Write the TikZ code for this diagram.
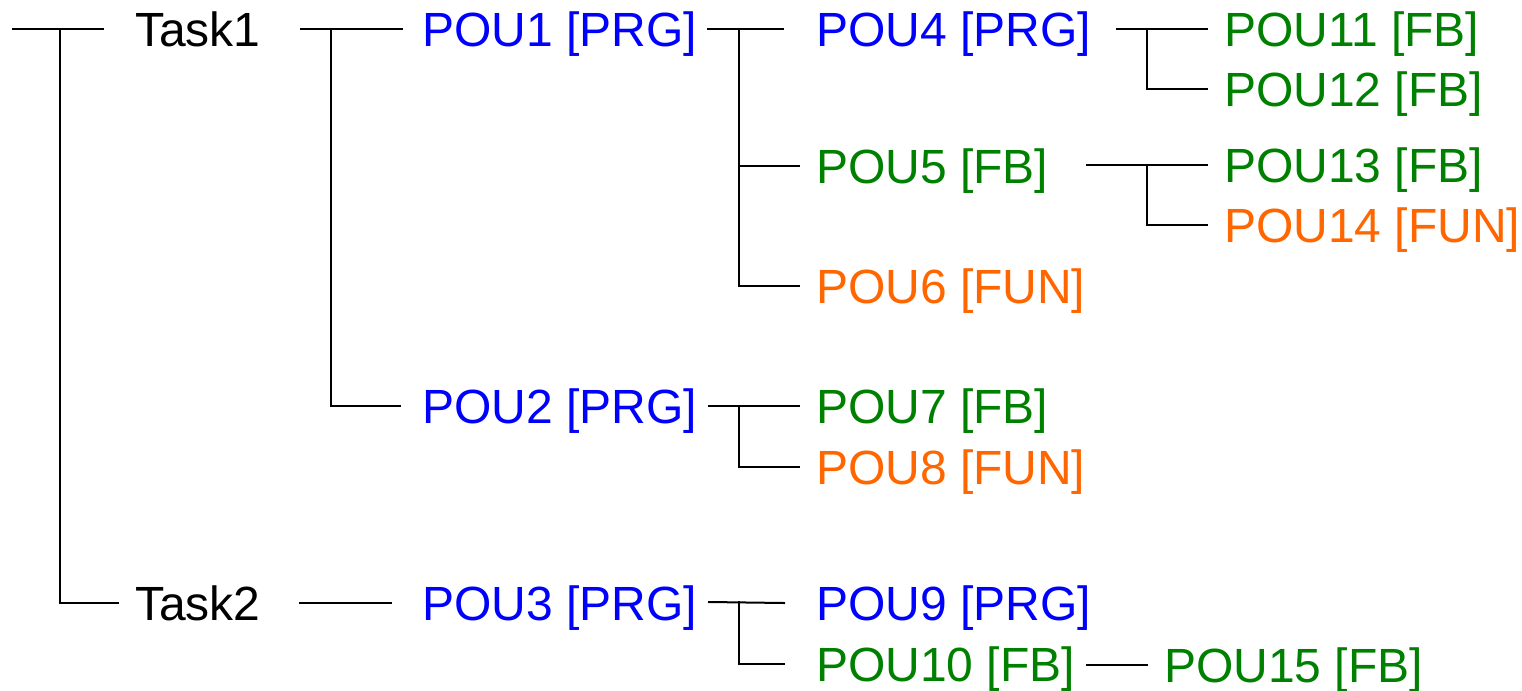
\documentclass[tikz,border=0pt]{standalone}
\usepackage{fontspec}
\setmainfont{Liberation Sans}
\usepackage[svgnames]{xcolor}
\definecolor{funorange}{RGB}{255,102,0}

\begin{document}
\begin{tikzpicture}[
    x=0.5pt,
    y=-0.5pt,
    line width=1pt,
    pou/.style = {
        anchor=base west,
        inner sep=0pt,
        yshift=-8.6pt,
        font=\fontsize{24}{28}\selectfont
    },
    task/.style = {pou, text=black},
    prg/.style = {pou, text=Blue},
    fb/.style = {pou, text=Green},
    fun/.style = {pou, text=funorange},
]
    \useasboundingbox (0,0) rectangle (1522,691);

    % Tasks
    \node [task] (task1) at (134,29) {Task1};
    \node [task] (task2) at (134,603) {Task2};

    % Programs called by the tasks
    \node [prg] (pou1) at (421,29) {POU1 [PRG]};
    \node [prg] (pou2) at (421,406) {POU2 [PRG]};
    \node [prg] (pou3) at (421,603) {POU3 [PRG]};

    % Second level
    \node [prg] (pou4) at (815,29) {POU4 [PRG]};
    \node [fb]  (pou5) at (815,166) {POU5 [FB]};
    \node [fun] (pou6) at (815,286) {POU6 [FUN]};
    \node [fb]  (pou7) at (815,406) {POU7 [FB]};
    \node [fun] (pou8) at (815,467) {POU8 [FUN]};
    \node [prg] (pou9) at (815,603) {POU9 [PRG]};
    \node [fb]  (pou10) at (815,664) {POU10 [FB]};

    % Third level
    \node [fb]  (pou11) at (1223,29) {POU11 [FB]};
    \node [fb]  (pou12) at (1223,89) {POU12 [FB]};
    \node [fb]  (pou13) at (1223,165) {POU13 [FB]};
    \node [fun] (pou14) at (1223,225) {POU14 [FUN]};
    \node [fb]  (pou15) at (1163,665) {POU15 [FB]};

    % Line ends and forks
    \coordinate (root_in) at (13,29);
    \coordinate (root_fork) at (60,29);
    \coordinate (task1_in) at (103,29);
    \coordinate (task2_in) at (118,603);

    \coordinate (task1_out) at (301,29);
    \coordinate (task1_fork) at (331,29);
    \coordinate (pou1_in) at (402,29);
    \coordinate (pou2_in) at (400,406);
    \coordinate (task2_out) at (300,603);
    \coordinate (pou3_in) at (391,603);

    \coordinate (pou1_out) at (708,29);
    \coordinate (pou1_fork) at (739,29);
    \coordinate (pou4_in) at (783,29);
    \coordinate (pou5_in) at (799,166);
    \coordinate (pou6_in) at (799,286);

    \coordinate (pou2_out) at (709,406);
    \coordinate (pou2_fork) at (739,406);
    \coordinate (pou7_in) at (799,406);
    \coordinate (pou8_in) at (799,467);

    \coordinate (pou3_out) at (709,602);
    \coordinate (pou3_fork) at (739,602);
    \coordinate (pou9_in) at (784,603);
    \coordinate (pou10_in) at (784,664);

    \coordinate (pou4_out) at (1117,29);
    \coordinate (pou4_fork) at (1147,29);
    \coordinate (pou11_in) at (1207,29);
    \coordinate (pou12_in) at (1207,89);

    \coordinate (pou5_out) at (1087,165);
    \coordinate (pou5_fork) at (1147,165);
    \coordinate (pou13_in) at (1207,165);
    \coordinate (pou14_in) at (1207,225);

    \coordinate (pou10_out) at (1087,665);
    \coordinate (pou15_in) at (1147,665);

    \begin{scope}[line cap=rect]
        \draw (root_in) -- (task1_in);
        \draw (root_fork) |- (task2_in);

        \draw (task1_out) -- (pou1_in);
        \draw (task1_fork) |- (pou2_in);
        \draw (task2_out) -- (pou3_in);

        \draw (pou1_out) -- (pou4_in);
        \draw (pou1_fork) |- (pou5_in);
        \draw (pou1_fork) |- (pou6_in);

        \draw (pou2_out) -- (pou7_in);
        \draw (pou2_fork) |- (pou8_in);

        \draw (pou3_out) -- (pou9_in);
        \draw (pou3_fork) |- (pou10_in);

        \draw (pou4_out) -- (pou11_in);
        \draw (pou4_fork) |- (pou12_in);

        \draw (pou5_out) -- (pou13_in);
        \draw (pou5_fork) |- (pou14_in);

        \draw (pou10_out) -- (pou15_in);
    \end{scope}
\end{tikzpicture}
\end{document}
